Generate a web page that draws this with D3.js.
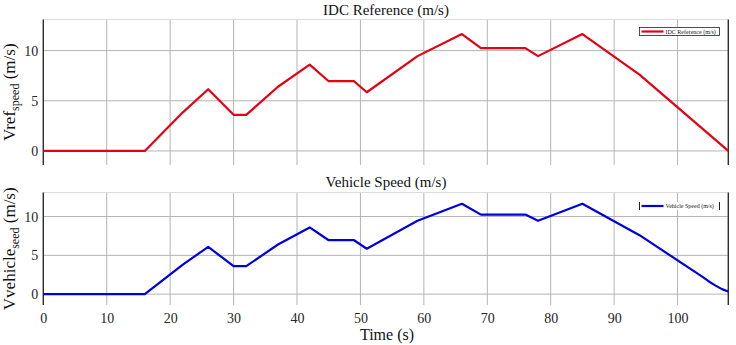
<!DOCTYPE html>
<html><head><meta charset="utf-8">
<script src="https://cdn.jsdelivr.net/npm/d3@7"></script>
<style>
body{margin:0;background:#fff;}
svg, svg text{font-family:"Liberation Serif","DejaVu Serif","Times New Roman",serif !important;}
</style></head><body>
<svg id="c" width="736" height="345"></svg>
<script>
// ---- data ----
const refTime  = [0, 16, 22, 26, 30, 32, 37, 42, 45, 49, 51, 59, 66, 69, 76, 78, 85, 94, 108];
const refSpeed = [0, 0, 3.85, 6.15, 3.6, 3.6, 6.4, 8.6, 6.95, 6.95, 5.85, 9.45, 11.65, 10.25, 10.25, 9.45, 11.65, 7.6, 0];
const vehTime  = [0, 16, 22, 26, 30, 32, 37, 42, 45, 49, 51, 59, 66, 69, 76, 78, 85, 94, 104, 105, 106, 107, 108];
const vehSpeed = [0, 0, 3.8, 6.1, 3.6, 3.6, 6.4, 8.6, 6.95, 6.95, 5.85, 9.45, 11.65, 10.25, 10.25, 9.45, 11.65, 7.6, 2.2, 1.6, 1.1, 0.65, 0.35];
const xTicks = [0, 10, 20, 30, 40, 50, 60, 70, 80, 90, 100];
const yTicks = [0, 5, 10];
const titles = ["IDC Reference (m/s)", "Vehicle Speed (m/s)"];
const legends = ["IDC Reference (m/s)", "Vehicle Speed (m/s)"];
const yLabelMain = ["Vref", "Vvehicle"];
const yLabelSub = ["speed", "seed"];

const svg = d3.select("#c");
const L = 43.3, R = 728.3;
const x = d3.scaleLinear().domain([0, 108]).range([L, R]);
const panels = [
  {top: 19.5, bottom: 165, t: refTime, v: refSpeed, color: "#e60012", i: 0},
  {top: 192.5, bottom: 305, t: vehTime, v: vehSpeed, color: "#0000dc", i: 1}
];

panels.forEach(p => {
  const y = d3.scaleLinear().domain([-1.4, 13.1]).range([p.bottom, p.top]);
  const g = svg.append("g");
  g.selectAll(".gx").data(xTicks.concat([108])).join("line")
    .attr("x1", d => x(d)).attr("x2", d => x(d))
    .attr("y1", p.top).attr("y2", p.bottom)
    .attr("stroke", "#b4b4b4").attr("stroke-width", 1);
  g.selectAll(".gy").data(yTicks).join("line")
    .attr("x1", L).attr("x2", R)
    .attr("y1", d => y(d)).attr("y2", d => y(d))
    .attr("stroke", "#b4b4b4").attr("stroke-width", 1);
  g.append("line").attr("x1", L).attr("x2", R).attr("y1", p.top).attr("y2", p.top)
    .attr("stroke", "#dcdcdc");
  g.append("line").attr("x1", L).attr("x2", L).attr("y1", p.top).attr("y2", p.bottom)
    .attr("stroke", "#262626").attr("stroke-width", 1.3);
  g.append("line").attr("x1", R).attr("x2", R).attr("y1", p.top).attr("y2", p.bottom)
    .attr("stroke", "#262626").attr("stroke-width", 1.3);
  const ya = d3.axisLeft(y).tickValues(yTicks).tickSize(0).tickPadding(5);
  const yg = svg.append("g").attr("transform", `translate(${L},0)`).call(ya)
    .attr("font-family", null).attr("font-size", null);
  yg.select(".domain").remove();
  yg.selectAll("text").style("font-size", "14px").attr("fill", "#262626");
  const line = d3.line().x((d, k) => x(p.t[k])).y(d => y(d));
  svg.append("path").datum(p.v).attr("d", line).attr("fill", "none")
    .attr("stroke", p.color).attr("stroke-width", 2.2).attr("stroke-linejoin", "round");
  svg.append("text").attr("x", 386).attr("y", p.i === 0 ? 15 : 187)
    .attr("text-anchor", "middle").attr("font-size", 15).attr("fill", "#111")
    .text(titles[p.i]);
  const cy = (p.top + p.bottom) / 2;
  const yl = svg.append("text").attr("transform", `translate(15,${cy}) rotate(-90)`)
    .attr("text-anchor", "middle").attr("font-size", 17).attr("fill", "#111");
  yl.append("tspan").text(yLabelMain[p.i]);
  yl.append("tspan").attr("font-size", 12).attr("dy", 4).text(yLabelSub[p.i]);
  yl.append("tspan").attr("dy", -4).text(" (m/s)");
  const lx = 639.5, lw = 80, ly = p.i === 0 ? 27.5 : 202, lh = 8;
  if (p.i === 0) {
    svg.append("rect").attr("x", lx).attr("y", ly).attr("width", lw).attr("height", lh)
      .attr("fill", "#fff").attr("stroke", "#222").attr("stroke-width", 0.8);
  } else {
    svg.append("rect").attr("x", lx).attr("y", ly).attr("width", lw).attr("height", lh)
      .attr("fill", "#fff");
    svg.append("line").attr("x1", lx).attr("x2", lx).attr("y1", ly).attr("y2", ly + lh).attr("stroke", "#222");
    svg.append("line").attr("x1", lx + lw).attr("x2", lx + lw).attr("y1", ly).attr("y2", ly + lh).attr("stroke", "#222");
  }
  svg.append("line").attr("x1", lx + 2).attr("x2", lx + 24).attr("y1", ly + lh / 2).attr("y2", ly + lh / 2)
    .attr("stroke", p.color).attr("stroke-width", 2.2);
  svg.append("text").attr("x", lx + 26).attr("y", ly + lh / 2 + 2).attr("font-size", 6)
    .attr("fill", "#222").text(legends[p.i]);
});

const xa = d3.axisBottom(x).tickValues(xTicks).tickSize(0).tickPadding(8);
const xg = svg.append("g").attr("transform", `translate(0,${305})`).call(xa)
  .attr("font-family", null).attr("font-size", null);
xg.select(".domain").remove();
xg.selectAll("text").style("font-size", "14px").attr("fill", "#262626");

svg.append("text").attr("x", 387).attr("y", 340).attr("text-anchor", "middle")
  .attr("font-size", 16).attr("fill", "#111").text("Time (s)");
</script>
</body></html>
